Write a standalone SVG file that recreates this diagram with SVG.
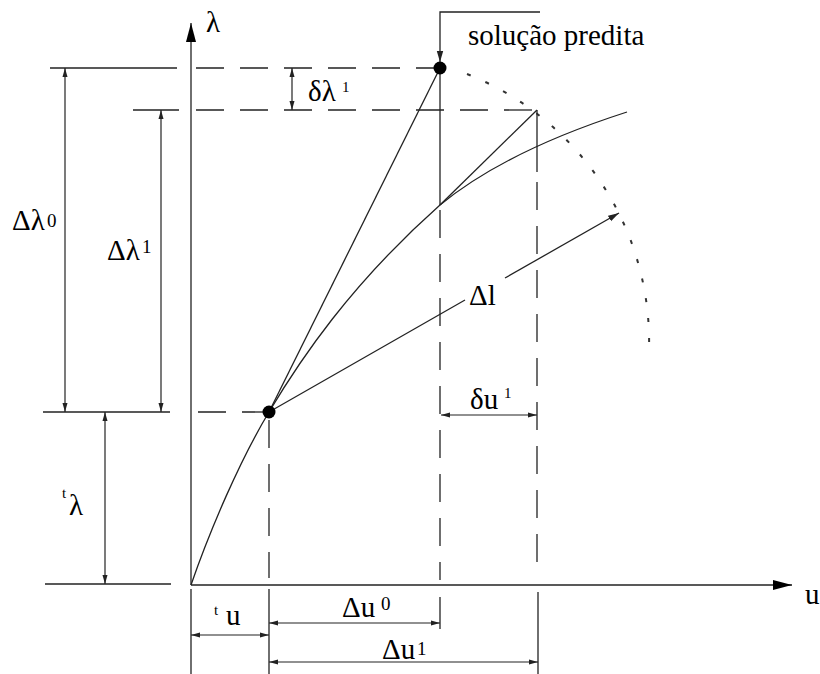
<svg xmlns="http://www.w3.org/2000/svg" width="820" height="674" viewBox="0 0 820 674">
<style>
.ln{stroke:#222;stroke-width:1.3;fill:none}
.dash{stroke:#222;stroke-width:1.3;fill:none;stroke-dasharray:28 16}
.dot{stroke:#333;stroke-width:2;fill:none;stroke-dasharray:4 16}
.dim{stroke:#222;stroke-width:1.2;fill:none;marker-start:url(#ah);marker-end:url(#ah)}
text{font-family:"Liberation Serif","Times New Roman",serif;fill:#000}
.m{font-size:29px}
.s{font-size:19px}
.t{font-size:15px}
</style>
<defs>
<marker id="ah" markerUnits="userSpaceOnUse" markerWidth="10" markerHeight="6" refX="9" refY="3" orient="auto-start-reverse" viewBox="0 0 10 6"><path d="M0,0.5 L9,3 L0,5.5 z" fill="#222"/></marker>
<marker id="ae" markerUnits="userSpaceOnUse" markerWidth="12" markerHeight="8" refX="11" refY="4" orient="auto" viewBox="0 0 12 8"><path d="M0,0.8 L11,4 L0,7.2 z" fill="#222"/></marker>
<marker id="ax" markerUnits="userSpaceOnUse" markerWidth="20" markerHeight="12" refX="19" refY="6" orient="auto" viewBox="0 0 20 12"><path d="M0,1 L19,6 L0,11 z" fill="#000"/></marker>
</defs>

<g id="axes">
<line class="ln" x1="191" y1="585" x2="191" y2="23" marker-end="url(#ax)"/>
<line class="ln" x1="191" y1="585" x2="792" y2="585" marker-end="url(#ax)"/>
<line class="ln" x1="191" y1="589" x2="191" y2="674"/>
</g>

<g id="curve">
<path class="ln" d="M191,585 C210,530 240,460 269,412 C300,360 350,285 440,205 C480,172 540,140 627,112"/>
<path class="dot" d="M467,74 A288,288 0 0 1 649,350"/>
</g>

<g id="connectors">
<line class="ln" x1="269" y1="412" x2="440" y2="68"/>
<line class="ln" x1="440" y1="68" x2="440" y2="205"/>
<line class="ln" x1="440" y1="205" x2="537" y2="110"/>
<line class="ln" x1="537" y1="110" x2="537" y2="172"/>
<line class="ln" x1="269" y1="412" x2="465" y2="300"/>
<line class="ln" x1="505" y1="278" x2="619" y2="213" marker-end="url(#ae)"/>
<polyline class="ln" points="540,12 440,12 440,62" marker-end="url(#ae)"/>
<line class="dash" x1="196" y1="68" x2="440" y2="68"/>
<line class="dash" x1="196" y1="110" x2="537" y2="110"/>
<line class="dash" x1="198" y1="412" x2="269" y2="412"/>
<line class="dash" x1="269" y1="420" x2="269" y2="578"/>
<line class="dash" x1="440" y1="210" x2="440" y2="580"/>
<line class="dash" x1="537" y1="182" x2="537" y2="576"/>
<line class="ln" x1="50" y1="68" x2="177" y2="68"/>
<line class="ln" x1="133" y1="110" x2="179" y2="110"/>
<line class="ln" x1="43" y1="412" x2="170" y2="412"/>
<line class="ln" x1="45" y1="584" x2="171" y2="584"/>
<line class="ln" x1="269" y1="589" x2="269" y2="674"/>
<line class="ln" x1="440" y1="597" x2="440" y2="629"/>
<line class="ln" x1="538" y1="592" x2="538" y2="674"/>
<line class="dim" x1="65" y1="68" x2="65" y2="412"/>
<line class="dim" x1="161" y1="110" x2="161" y2="412"/>
<line class="dim" x1="105" y1="412" x2="105" y2="584"/>
<line class="dim" x1="292" y1="68" x2="292" y2="110"/>
<line class="dim" x1="441" y1="415" x2="537" y2="415"/>
<line class="dim" x1="191" y1="635" x2="269" y2="635"/>
<line class="dim" x1="269" y1="623" x2="440" y2="623"/>
<line class="dim" x1="269" y1="662" x2="538" y2="662"/>
</g>

<g id="point-predicted"><circle cx="440" cy="68" r="6.5" fill="#000"/></g>
<g id="point-start"><circle cx="269" cy="412" r="6.5" fill="#000"/></g>

<g id="labels">
<text class="m" x="206" y="32">λ</text>
<text class="m" x="805" y="604">u</text>
<text class="m" x="468" y="45">solução predita</text>
<text class="m" x="308" y="101">δλ</text><text class="t" x="342" y="92">1</text>
<text class="m" x="12" y="230">Δλ</text><text class="s" x="47" y="227">0</text>
<text class="m" x="107" y="260">Δλ</text><text class="s" x="142" y="253">1</text>
<text class="t" x="62" y="498">t</text><text class="m" x="69" y="515">λ</text>
<text class="m" x="469" y="305">Δl</text>
<text class="m" x="470" y="409">δu</text><text class="t" x="504" y="398">1</text>
<text class="t" x="214" y="615">t</text><text class="m" x="226" y="625">u</text>
<text class="m" x="342" y="617">Δu</text><text class="s" x="381" y="610">0</text>
<text class="m" x="382" y="659">Δu</text><text class="s" x="417" y="655">1</text>
</g>
</svg>
